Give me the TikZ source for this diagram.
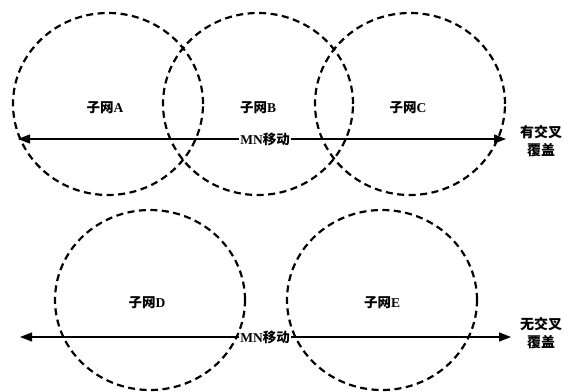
\documentclass[tikz,border=0pt]{standalone}
\usepackage{fontspec}
\setmainfont{Liberation Serif}
\newfontfamily\cjk{Noto Sans CJK SC}
\usetikzlibrary{arrows.meta,shapes.geometric}
\begin{document}
\begin{tikzpicture}[x=1pt,y=-1pt,
  zone/.style={ellipse, draw, line width=2.2pt, dash pattern=on 7pt off 4.5pt,
    minimum width=190pt, minimum height=182pt, inner sep=0pt},
  lbl/.style={font=\fontsize{13.5}{15}\selectfont\bfseries, inner sep=1pt},
  mv/.style={font=\fontsize{13.5}{15}\selectfont\bfseries, fill=white, inner sep=1pt},
  side/.style={font=\fontsize{14}{16}\selectfont\bfseries, align=center, inner sep=0pt},
  move/.style={line width=1.3pt, {Triangle[length=12pt,width=9pt]}-{Triangle[length=12pt,width=9pt]}}]
\useasboundingbox (0,0) rectangle (569,391);
% top row
\coordinate (tl) at (18,139);
\coordinate (tr) at (506,139);
\draw[move] (tl) -- (tr);
\node[mv] (m1) at (265,139) {MN{\cjk 移动}};
\node[zone] (A) at (108,104) {};
\node[zone] (B) at (258,104) {};
\node[zone] (C) at (410,104) {};
\node[lbl] (la) at (105,108) {{\cjk 子网}A};
\node[lbl] (lb) at (258,108) {{\cjk 子网}B};
\node[lbl] (lc) at (408,108) {{\cjk 子网}C};
\node[side] (s1) at (541,141) {{\cjk 有交叉}\\[2pt]{\cjk 覆盖}};
% bottom row
\coordinate (bl) at (20,337);
\coordinate (br) at (511,337);
\draw[move] (bl) -- (br);
\node[mv] (m2) at (265,337) {MN{\cjk 移动}};
\node[zone, minimum height=180pt] (D) at (150,300) {};
\node[zone, minimum height=180pt] (E) at (382,300) {};
\node[lbl] (ld) at (147,303) {{\cjk 子网}D};
\node[lbl] (le) at (382,303) {{\cjk 子网}E};
\node[side] (s2) at (541,333) {{\cjk 无交叉}\\[2pt]{\cjk 覆盖}};
\end{tikzpicture}
\end{document}
